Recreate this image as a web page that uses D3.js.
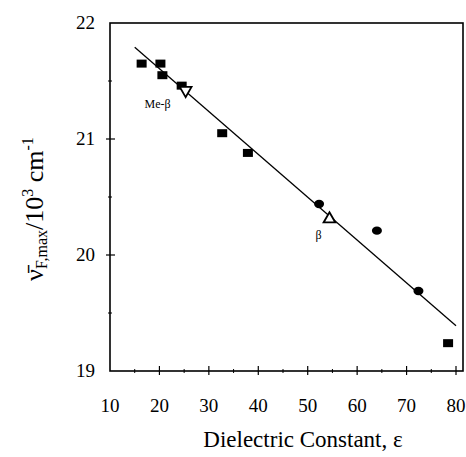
<!DOCTYPE html>
<html>
<head>
<meta charset="utf-8">
<script src="https://cdn.jsdelivr.net/npm/d3@7"></script>
<style>
  body{margin:0;background:#fff;}
</style>
</head>
<body>
<svg id="chart" width="466" height="457" font-family="'Liberation Serif', 'Times New Roman', serif"></svg>
<script>
// values
var squareX=[16.4,20.2,20.6,24.5,32.7,37.9,78.4];
var squareY=[21.65,21.65,21.55,21.46,21.05,20.88,19.24];
var circleX=[52.3,64.0,72.4];
var circleY=[20.44,20.21,19.69];
var openX=[25.3,54.4];
var openY=[21.42,20.31];
var openKind=["down","up"];
var openLabel=["Me-\u03b2","\u03b2"];
var fitX=[15,80];
var fitY=[21.79,19.39];
var xTicks=[10,20,30,40,50,60,70,80];
var yTicks=[19,20,21,22];

var svg=d3.select("#chart");
var x=d3.scaleLinear().domain([10,80]).range([110,456]);
var y=d3.scaleLinear().domain([19,22]).range([371,23]);
var right=463;

// frame
svg.append("rect")
   .attr("x",110).attr("y",y(22))
   .attr("width",right-110).attr("height",y(19)-y(22))
   .attr("fill","none").attr("stroke","#000").attr("stroke-width",1.6);

// x ticks, crossing the axis
var xMinor=d3.range(15,80,10);
svg.selectAll(".xt").data(xTicks.slice(1)).enter().append("line")
   .attr("x1",d=>x(d)).attr("x2",d=>x(d))
   .attr("y1",y(19)-5).attr("y2",y(19)+4)
   .attr("stroke","#000").attr("stroke-width",1.2);
svg.selectAll(".xm").data(xMinor).enter().append("line")
   .attr("x1",d=>x(d)).attr("x2",d=>x(d))
   .attr("y1",y(19)-2).attr("y2",y(19)+2)
   .attr("stroke","#000").attr("stroke-width",1);
svg.selectAll(".xl").data(xTicks).enter().append("text")
   .attr("x",d=>x(d)).attr("y",412)
   .attr("text-anchor","middle").attr("font-size",19)
   .text(d=>d);

// y ticks
var yMinor=[19.5,20.5,21.5];
svg.selectAll(".yt").data([20,21]).enter().append("line")
   .attr("x1",106).attr("x2",115)
   .attr("y1",d=>y(d)).attr("y2",d=>y(d))
   .attr("stroke","#000").attr("stroke-width",1.2);
svg.selectAll(".ym").data(yMinor).enter().append("line")
   .attr("x1",108).attr("x2",112)
   .attr("y1",d=>y(d)).attr("y2",d=>y(d))
   .attr("stroke","#000").attr("stroke-width",1);
svg.selectAll(".yl").data(yTicks).enter().append("text")
   .attr("x",95).attr("y",d=>y(d)+6)
   .attr("text-anchor","end").attr("font-size",19)
   .text(d=>d);

// fitted line
svg.append("line")
   .attr("x1",x(fitX[0])).attr("y1",y(fitY[0]))
   .attr("x2",x(fitX[1])).attr("y2",y(fitY[1]))
   .attr("stroke","#000").attr("stroke-width",1.3);

// filled squares
svg.selectAll(".sq").data(squareX).enter().append("rect")
   .attr("x",(d)=>x(d)-5).attr("y",(d,i)=>y(squareY[i])-4)
   .attr("width",10).attr("height",8).attr("fill","#000");

// filled circles
svg.selectAll(".ci").data(circleX).enter().append("ellipse")
   .attr("cx",d=>x(d)).attr("cy",(d,i)=>y(circleY[i]))
   .attr("rx",5).attr("ry",4.2).attr("fill","#000");

// open triangles
var tri=d3.symbol().type(d3.symbolTriangle).size(60);
svg.selectAll(".tr").data(openX).enter().append("path")
   .attr("d",tri)
   .attr("transform",(d,i)=>"translate("+x(d)+","+y(openY[i])+")"+(openKind[i]=="down"?" rotate(180)":""))
   .attr("fill","#fff").attr("stroke","#000").attr("stroke-width",1.8);
svg.selectAll(".tl").data(openX).enter().append("text")
   .attr("x",(d,i)=>i==0?x(d)-28:x(d)-11)
   .attr("y",(d,i)=>i==0?y(openY[i])+18:y(openY[i])+20)
   .attr("text-anchor","middle").attr("font-size",12)
   .text((d,i)=>openLabel[i]);

// axis titles
svg.append("text")
   .attr("x",303).attr("y",447)
   .attr("text-anchor","middle").attr("font-size",23)
   .text("Dielectric Constant, \u03b5");

var yt=svg.append("text")
   .attr("transform","translate(43,209) rotate(-90)")
   .attr("text-anchor","middle").attr("font-size",26);
yt.append("tspan").text("\u03bd\u0304");
yt.append("tspan").attr("font-size",16).attr("dy",4).text("F,max");
yt.append("tspan").attr("dy",-4).text("/10");
yt.append("tspan").attr("font-size",16).attr("dy",-10).text("3");
yt.append("tspan").attr("dy",10).text(" cm");
yt.append("tspan").attr("font-size",16).attr("dy",-10).text("-1");
</script>
</body>
</html>
